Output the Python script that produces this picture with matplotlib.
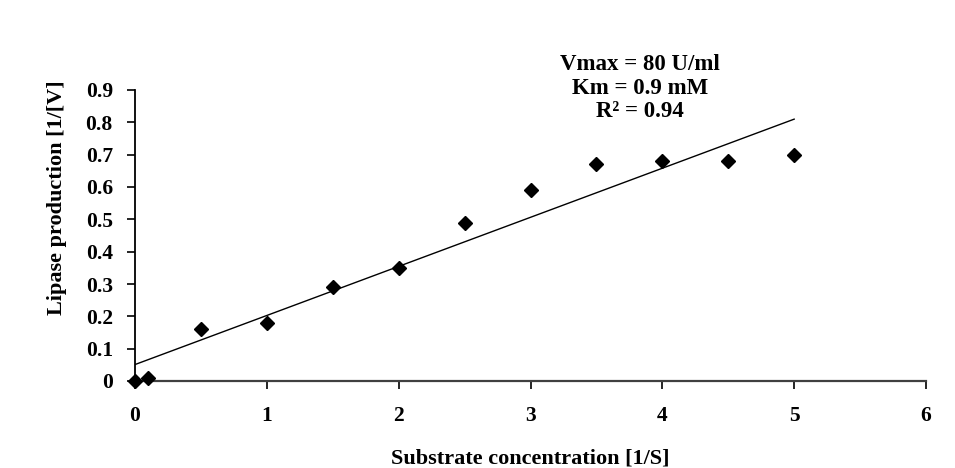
import numpy as np
import matplotlib
matplotlib.use("Agg")
import matplotlib.pyplot as plt

x_vals = [0, 0.1, 0.5, 1.0, 1.5, 2.0, 2.5, 3.0, 3.5, 4.0, 4.5, 5.0]
y_vals = [0.0, 0.01, 0.16, 0.18, 0.29, 0.35, 0.49, 0.59, 0.67, 0.68, 0.68, 0.70]
x_ticks = [0, 1, 2, 3, 4, 5, 6]
y_ticks = [0, 0.1, 0.2, 0.3, 0.4, 0.5, 0.6, 0.7, 0.8, 0.9]
y_tick_labels = ["0", "0.1", "0.2", "0.3", "0.4", "0.5", "0.6", "0.7", "0.8", "0.9"]
annotation = "Vmax = 80 U/ml\nKm = 0.9 mM\nR² = 0.94"

plt.rcParams['font.family'] = ['Liberation Serif', 'DejaVu Serif']
plt.rcParams['font.weight'] = 'bold'

fig = plt.figure(figsize=(9.55, 4.68), dpi=100)
ax = fig.add_axes([135/955, 1-381/468, (926-135)/955, (381-90)/468])

# trendline
slope, intercept = np.polyfit(x_vals, y_vals, 1)
xl = np.array([0, 5])
ax.plot(xl, slope*xl + intercept, color='black', lw=1.0, zorder=2)

ax.plot(x_vals, y_vals, linestyle='none', marker='D', markersize=7.5,
        color='black', clip_on=False, zorder=3)

ax.set_xlim(0, 6)
ax.set_ylim(0, 0.9)
ax.set_xticks(x_ticks)
ax.set_xticklabels([str(t) for t in x_ticks], fontsize=15.5, fontweight='bold')
ax.set_yticks(y_ticks)
ax.set_yticklabels(y_tick_labels, fontsize=15.5, fontweight='bold')
ax.spines['top'].set_visible(False)
ax.spines['right'].set_visible(False)
ax.spines['left'].set_linewidth(1.3)
ax.spines['bottom'].set_linewidth(1.6)
ax.spines['bottom'].set_color('#404040')
ax.tick_params(axis='both', direction='out', length=6, width=1.2)
ax.tick_params(axis='y', pad=10)
ax.tick_params(axis='x', pad=12)

ax.set_xlabel("Substrate concentration [1/S]", fontsize=16, fontweight='bold', labelpad=16)
ax.set_ylabel("Lipase production [1/[V]", fontsize=16, fontweight='bold')
ax.yaxis.set_label_coords((67-135)/791, (381-198)/291)

fig.text(640/955, 1-88/468, annotation, ha='center', va='center',
         fontsize=16.5, fontweight='bold', linespacing=1.15)

fig.savefig("out.png", dpi=100, facecolor='white')
